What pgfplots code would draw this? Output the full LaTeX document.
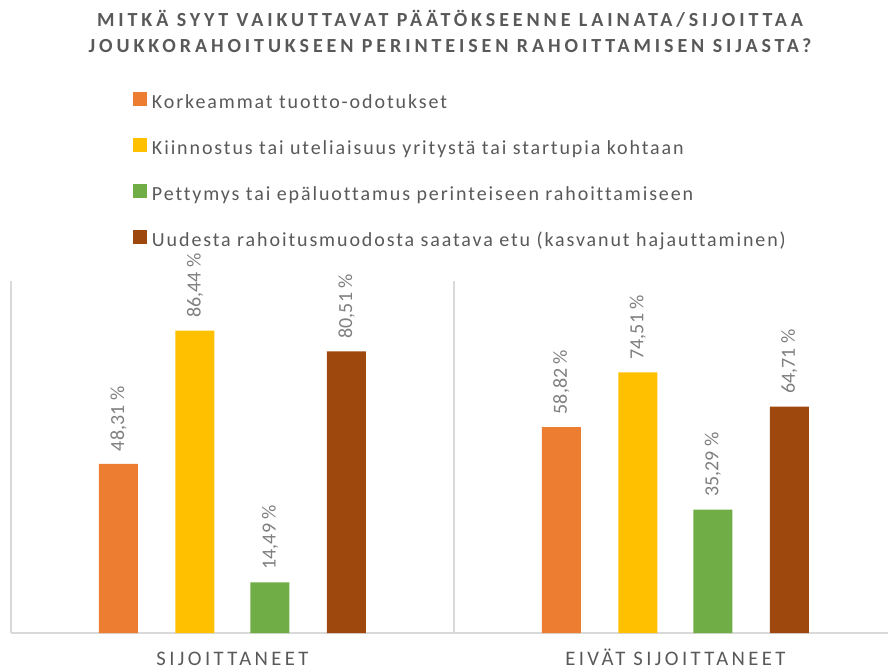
\documentclass[border=0pt]{standalone}
\usepackage{pgfplots}
\pgfplotsset{compat=1.18}
\usepackage{fontspec}
\setmainfont[Ligatures=NoCommon]{Carlito}
\definecolor{cOr}{HTML}{ED7D31}
\definecolor{cYe}{HTML}{FFC000}
\definecolor{cGr}{HTML}{70AD47}
\definecolor{cBr}{HTML}{9E480E}
\definecolor{txt}{HTML}{595959}
\definecolor{lbl}{HTML}{7F7F7F}
\definecolor{axl}{HTML}{D9D9D9}
\begin{document}
\begin{tikzpicture}
\path[use as bounding box] (0,0) rectangle (666pt,501.75pt);
\begin{axis}[
  at={(8.25pt,27pt)}, anchor=south west,
  scale only axis, width=657.75pt, height=264pt,
  xmin=-0.5, xmax=1.48, ymin=0, ymax=100.6,
  ybar, bar width=29.25pt,
  axis y line=none,
  axis x line*=bottom,
  x axis line style={draw=axl, line width=1pt, -},
  xtick={0,1},
  xticklabels={SIJOITTANEET, EIVÄT SIJOITTANEET},
  major tick length=0pt,
  x tick label style={font=\fontsize{15.5}{18}\selectfont\addfontfeature{LetterSpace=16.5}, text=txt, anchor=north, inner sep=0pt, text height=10.5pt, text depth=0pt, yshift=-14pt},
  extra x ticks={-0.5,0.5},
  extra x tick labels={},
  extra x tick style={grid=major, major grid style={draw=axl, line width=1.2pt}},
  /pgf/number format/.cd, fixed, fixed zerofill, precision=2, use comma, assume math mode=true,
  /pgfplots/.cd,
  nodes near coords={\pgfmathprintnumber{\pgfplotspointmeta}~\%},
  every node near coord/.append style={rotate=90, anchor=west, font=\fontsize{15}{18}\selectfont, text=lbl, inner sep=0pt, xshift=9.5pt},
  legend cell align=left,
  legend style={draw=none, fill=none, inner sep=0pt, outer sep=0pt,
    at={(0.1391,1.537)}, anchor=north west,
    font=\fontsize{15}{18}\selectfont\addfontfeature{LetterSpace=9.5}, text=txt,
    row sep=18pt,
    nodes={inner sep=0pt, text height=11pt, text depth=4pt},
    /tikz/every odd column/.append style={column sep=3.75pt}},
  legend image code/.code={\fill[#1] (0pt,-1.5pt) rectangle (10.5pt,9pt);},
]
\addplot[fill=cOr, draw=none, bar shift=-85.5pt] coordinates {(0,48.31) (1,58.82)};
\addplot[fill=cYe, draw=none, bar shift=-28.125pt] coordinates {(0,86.44) (1,74.51)};
\addplot[fill=cGr, draw=none, bar shift=28.125pt] coordinates {(0,14.49) (1,35.29)};
\addplot[fill=cBr, draw=none, bar shift=85.5pt] coordinates {(0,80.51) (1,64.71)};
\legend{Korkeammat tuotto-odotukset, Kiinnostus tai uteliaisuus yritystä tai startupia kohtaan, Pettymys tai epäluottamus perinteiseen rahoittamiseen, Uudesta rahoitusmuodosta saatava etu (kasvanut hajauttaminen)}
\end{axis}
\node[anchor=base, text=txt, font=\fontsize{15}{18}\selectfont\bfseries\addfontfeature{LetterSpace=19.5}] at (337.5pt,481.5pt) {MITKÄ SYYT VAIKUTTAVAT PÄÄTÖKSEENNE LAINATA/SIJOITTAA};
\node[anchor=base, text=txt, font=\fontsize{15}{18}\selectfont\bfseries\addfontfeature{LetterSpace=19.5}] at (337.5pt,462pt) {JOUKKORAHOITUKSEEN PERINTEISEN RAHOITTAMISEN SIJASTA?};
\end{tikzpicture}
\end{document}
